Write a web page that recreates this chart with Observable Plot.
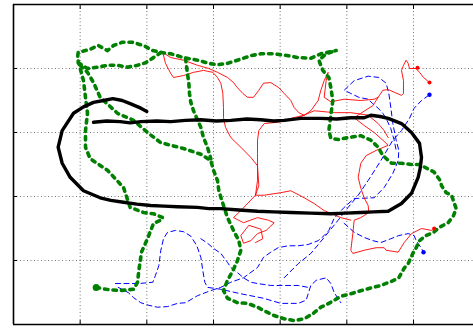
<!DOCTYPE html>
<html>
<head>
<meta charset="utf-8">
<script src="https://cdn.jsdelivr.net/npm/d3@7"></script>
<script src="https://cdn.jsdelivr.net/npm/@observablehq/plot@0.6"></script>
<style>
  html, body { margin: 0; padding: 0; background: #fff; }
  #chart svg { display: block; }
</style>
</head>
<body>
<div id="chart"></div>
<script>
// Grid tick positions (no labels are drawn)
const xTicks = [0, 10, 20, 30, 40, 50, 60];
const yTicks = [0, 10, 20, 30, 40, 50];

// Reference track (black, solid)
const blackTrack = [
  [12.0,31.6],[14.0,31.8],[16.0,31.7],[17.5,31.5],[19.1,31.7],[21.5,31.8],[23.6,31.7],[25.8,31.9],
  [28.1,32.0],[30.4,31.8],[32.6,31.9],[35.0,32.1],[37.1,32.0],[39.0,31.8],[40.6,31.9],[43.1,32.2],
  [46.1,32.2],[48.5,32.1],[50.6,32.3],[52.6,32.3],[53.6,32.7],[55.0,32.5],[56.2,32.2],[58.2,31.4],
  [59.7,30.0],[60.9,28.3],[61.2,26.1],[61.0,24.4],[60.7,23.0],[59.7,20.5],[58.2,18.9],[56.2,17.7],
  [54.0,17.6],[52.1,17.5],[49.8,17.4],[47.6,17.3],[44.5,17.4],[41.6,17.5],[39.0,17.6],[36.6,17.7],
  [33.8,17.9],[31.1,18.1],[29.3,18.1],[27.6,18.3],[24.6,18.4],[22.6,18.5],[20.6,18.6],[18.5,18.8],
  [16.5,19.1],[14.6,19.4],[13.0,19.8],[10.5,20.9],[8.5,23.0],[7.3,25.2],[6.7,27.7],[7.3,30.3],
  [9.0,33.0],[10.5,34.0],[12.0,34.7],[13.5,35.0],[14.9,35.3],[16.3,35.0],[17.5,34.5],[19.1,33.8],
  [20.0,33.3]
];

// Green dotted track, stored as its pieces
const greenA = [
  [12.4,5.8],[13.9,5.5],[15.9,5.3],[18.0,5.5],[18.6,6.6],[18.8,8.4],[19.2,11.3],[20.1,13.4],
  [21.0,15.8],[22.1,16.3],[22.4,16.7],[21.0,17.3],[19.5,17.5],[17.5,18.3],[16.5,21.4],[14.1,24.1],
  [11.5,25.9],[10.8,27.7],[10.8,30.3],[11.1,33.0],[10.8,35.5],[10.5,38.1],[10.0,40.0],[9.6,41.6],
  [9.7,42.5],[11.5,43.0],[12.7,43.6],[14.1,42.8],[15.0,43.6],[16.3,44.1],[17.8,44.1],[19.5,43.6],
  [20.9,42.8],[22.1,42.5],[23.6,42.3],[25.5,41.7],[27.6,41.3],[29.3,40.8],[30.6,40.6],[32.1,40.8],
  [33.6,41.3],[35.6,42.0],[37.1,42.3],[39.1,42.3],[41.2,42.0],[42.7,41.7],[44.6,41.6],[46.1,42.3],
  [48.4,42.8]
];
const greenB = [
  [9.7,40.9],[11.1,40.0],[12.6,40.2],[14.1,40.5],[15.6,40.5],[17.1,40.2],[18.6,40.5],[19.8,40.9],
  [21.0,41.7],[22.1,42.5]
];
const greenC = [
  [10.0,40.5],[11.1,39.4],[12.0,37.8],[13.0,35.5],[15.6,33.0],[18.0,31.9],[20.1,30.0],[22.1,28.4],
  [25.5,27.5],[28.1,26.6],[29.6,25.6],[30.0,24.1],[30.6,22.5],[30.8,20.9],[31.4,18.9],[32.1,16.7],
  [33.0,14.7],[33.8,13.1],[34.1,11.6],[33.6,10.0],[32.9,8.4],[32.1,6.9],[31.5,5.3],[32.1,4.1],
  [33.6,3.4],[35.1,3.3],[36.6,2.7],[37.5,2.2],[39.1,1.4],[40.6,0.9],[42.1,0.6],[43.6,0.9],
  [44.9,1.7],[46.1,2.7],[47.3,3.3],[49.1,4.4],[50.6,4.8],[51.8,5.2],[53.2,5.6],[55.1,6.1],
  [56.6,6.7],[57.8,7.3],[58.6,8.8],[59.2,9.5],[59.9,11.1],[60.4,12.0],[60.9,13.1],[61.9,13.9],
  [63.0,14.4],[63.9,15.2],[65.2,15.9],[66.0,17.0],[66.4,18.1],[65.7,20.2],[64.9,20.6],[64.2,21.7],
  [64.0,22.5],[63.1,23.8],[60.9,25.0],[59.7,25.0],[58.2,25.2],[56.7,25.2],[55.4,26.4],[54.7,27.7],
  [53.6,28.8],[52.1,29.5],[50.2,29.2],[48.7,28.9],[47.6,29.1],[47.3,30.3],[47.6,32.7],[47.9,35.0],
  [47.6,37.0],[47.3,38.6],[46.4,39.7],[45.8,41.3],[46.9,42.3],[48.4,42.8]
];
const greenD = [
  [25.8,41.6],[26.1,39.2],[26.3,37.7],[26.4,36.1],[26.6,34.7],[27.0,33.4],[27.5,32.2],[28.1,30.8],
  [28.5,29.2],[29.1,27.7],[29.6,25.9]
];

// Red track (thin, solid)
const redA = [
  [22.4,42.5],[22.8,40.8],[23.6,39.2],[24.0,38.6],[25.5,38.9],[27.0,39.4],[28.5,39.7],[29.9,39.4],
  [30.6,38.6],[31.1,37.7],[31.4,36.1],[31.5,33.9],[31.5,32.3],[31.8,30.8],[32.6,29.2],[34.1,27.7],
  [35.6,26.1],[36.6,24.8],[36.8,21.7],[36.3,20.2],[34.1,17.8],[33.0,16.7],[34.5,15.9],[36.6,16.7],
  [38.2,16.3],[39.1,15.9],[37.9,14.7],[36.6,14.2],[35.6,13.1],[34.5,12.7],[34.1,13.9],[35.3,15.5],
  [37.1,14.9],[37.4,13.4],[36.3,12.8]
];
const redB = [
  [22.4,42.5],[23.6,41.7],[25.5,41.3],[27.6,40.5],[29.3,40.0],[30.6,39.4],[32.1,38.6],[33.0,37.8],
  [33.6,37.0],[34.4,36.1],[35.1,35.5],[36.0,35.5],[36.8,36.6],[37.5,37.7],[38.6,37.8],[39.8,37.0],
  [40.6,36.1],[41.6,35.0],[42.1,33.9],[42.8,33.1],[43.6,32.7],[44.6,33.4],[45.7,35.0],[46.1,36.6],
  [46.6,38.1],[47.2,39.4],[46.9,38.1],[46.6,35.5],[47.6,34.8],[49.6,35.2],[52.1,35.0],[54.1,35.2],
  [54.7,35.5],[55.4,36.6],[56.2,36.7],[57.1,36.3],[58.2,35.8],[58.5,36.1],[58.5,38.1],[58.2,39.7],
  [58.5,40.5],[58.9,41.3],[59.2,40.8],[59.4,40.0],[60.4,40.0],[60.9,39.4],[61.5,38.6],[62.4,37.8]
];
const redC = [
  [54.7,35.5],[53.9,34.2],[52.1,33.0],[51.1,32.3],[52.6,31.1],[54.1,30.0],[55.4,28.8],[56.2,28.0],
  [54.4,27.2],[52.9,26.4],[52.1,25.2],[51.7,23.0],[52.1,21.3],[52.6,19.8],[53.2,18.6],[53.3,17.5],
  [52.1,16.7],[51.1,16.3],[50.9,14.2],[50.6,11.6],[50.9,11.1],[52.6,11.6],[54.4,12.0],[55.6,12.0],
  [55.9,11.6],[57.7,11.3],[58.6,12.8],[59.7,14.2],[61.2,15.0],[62.7,14.7],[63.4,15.0]
];
const redD = [
  [36.3,20.2],[37.6,20.2],[40.1,20.6],[41.6,20.9],[43.6,19.8],[45.1,18.9],[46.6,17.8],[49.1,16.7],
  [50.6,16.3]
];
const redE = [
  [42.7,32.3],[45.1,33.4],[48.1,33.1],[50.6,33.1],[53.2,32.7],[54.7,31.4],[55.6,30.3],[56.2,29.2]
];
const redF = [
  [43.6,32.7],[41.6,32.2],[39.7,31.6],[37.6,31.4],[36.8,30.3],[36.6,28.8],[36.6,26.7],[36.6,24.5],
  [36.6,22.5],[36.3,20.2]
];

// Blue track (thin, dashed)
const blueA = [
  [15.3,6.4],[16.5,6.4],[18.8,6.4],[20.9,6.6],[21.3,7.7],[21.8,9.2],[22.1,11.6],[22.5,13.4],
  [23.1,14.4],[24.3,14.7],[25.5,14.5],[26.6,13.8],[27.5,12.3],[28.1,10.5],[28.4,8.4],[28.7,6.6],
  [29.1,5.8],[31.1,5.5],[34.1,4.8],[37.5,4.1],[40.1,3.3],[42.7,3.3],[43.9,3.8],[44.6,6.1],
  [45.4,6.9],[46.9,7.3],[47.6,6.4],[48.1,5.0],[49.1,3.4]
];
const blueB = [
  [15.7,5.8],[17.2,5.0],[18.0,4.2],[19.1,3.4],[20.3,3.0],[21.6,2.7],[23.1,2.8],[24.6,3.3],
  [25.8,3.4],[27.6,4.5],[29.6,5.3],[31.1,5.8],[32.6,6.6],[34.5,7.3],[36.6,8.9],[37.5,10.5],
  [38.6,11.3],[39.7,12.0],[41.2,12.3],[42.7,12.3],[44.2,12.5],[45.7,13.1],[46.6,13.9],[47.3,14.7],
  [48.1,16.6],[49.6,18.3],[51.1,19.7],[51.8,19.7],[54.1,19.8],[55.6,21.4],[56.9,23.6],[57.7,25.6],
  [57.8,27.2],[57.4,28.8],[56.9,31.4],[56.6,33.9],[56.3,36.1],[55.9,37.7],[54.8,38.6],[53.2,38.8],
  [51.1,38.1],[49.6,36.6],[50.6,36.1],[51.8,35.5],[53.2,35.2],[53.9,34.5],[54.7,33.8],[55.4,33.0],
  [55.9,32.2],[56.6,30.6],[57.1,28.8],[57.4,27.2]
];
const blueC = [
  [28.1,13.4],[29.1,12.7],[30.0,11.9],[31.1,11.1],[32.1,9.7],[32.6,8.9],[33.6,8.1],[34.5,7.3],
  [35.6,6.6],[36.6,6.4],[38.6,6.1],[40.6,6.1],[42.7,6.1],[44.2,5.8]
];
const blueD = [
  [40.6,7.3],[42.7,9.5],[44.6,11.1],[46.6,13.6],[48.7,16.3],[50.2,18.3],[51.7,20.2],[53.2,22.5],
  [55.1,25.6],[56.9,28.8],[58.2,30.3],[59.4,32.2],[60.1,33.8],[61.2,35.0],[62.4,35.9]
];
const blueE = [
  [49.6,15.8],[51.1,14.4],[52.6,13.6],[53.9,13.1],[55.1,12.8],[56.6,13.4],[57.8,13.9],[59.2,14.2],
  [60.1,13.9],[60.4,13.1],[61.2,11.9],[61.5,11.3]
];

// Track end points that carry a heavier marker
const greenEnds = [[12.4,5.8]];
const redEnds = [[60.6,40.1],[62.4,37.8],[63.1,15.0]];
const blueEnds = [[62.4,35.9],[61.5,11.3]];

const GREEN = "#008000", RED = "#ff0000", BLUE = "#0000ff";
const px = d => d[0], py = d => d[1];

const tracks = (pieces, opts) => pieces.map(p => Plot.line(p, {x: px, y: py, ...opts}));

const chart = Plot.plot({
  width: 473,
  height: 328,
  marginLeft: 13,
  marginRight: 0,
  marginTop: 4,
  marginBottom: 4,
  x: {domain: [0, 69]},
  y: {domain: [0, 50]},
  style: {background: "#fff"},
  marks: [
    Plot.gridX(xTicks, {stroke: "#777", strokeOpacity: 1, strokeDasharray: "1,2.5"}),
    Plot.gridY(yTicks, {stroke: "#777", strokeOpacity: 1, strokeDasharray: "1,2.5"}),
    Plot.axisX(xTicks, {anchor: "bottom", tickSize: -4, tickFormat: () => "", label: null, stroke: "#000"}),
    Plot.axisX(xTicks, {anchor: "top", tickSize: -4, tickFormat: () => "", label: null, stroke: "#000"}),
    Plot.axisY(yTicks, {anchor: "left", tickSize: -4, tickFormat: () => "", label: null, stroke: "#000"}),
    ...tracks([blueA, blueB, blueC, blueD, blueE], {stroke: BLUE, strokeWidth: 1, strokeDasharray: "5,3.5"}),
    ...tracks([redA, redB, redC, redD, redE, redF], {stroke: RED, strokeWidth: 0.9}),
    ...tracks([greenA, greenB, greenC, greenD], {stroke: GREEN, strokeWidth: 3.6, strokeDasharray: "3.5,5"}),
    Plot.line(blackTrack, {x: px, y: py, stroke: "#000", strokeWidth: 3.4, strokeLinejoin: "round"}),
    Plot.dot(greenEnds, {x: px, y: py, r: 3.5, fill: GREEN}),
    Plot.dot(redEnds, {x: px, y: py, r: 2, fill: RED}),
    Plot.dot(blueEnds, {x: px, y: py, r: 2.2, fill: BLUE}),
    // Axes box: left, bottom and top edges (the right edge lies past the drawing area)
    Plot.ruleX([0], {stroke: "#000", strokeWidth: 1.6}),
    Plot.ruleY([0, 50], {stroke: "#000", strokeWidth: 1.6})
  ]
});

document.getElementById("chart").appendChild(chart);
</script>
</body>
</html>
